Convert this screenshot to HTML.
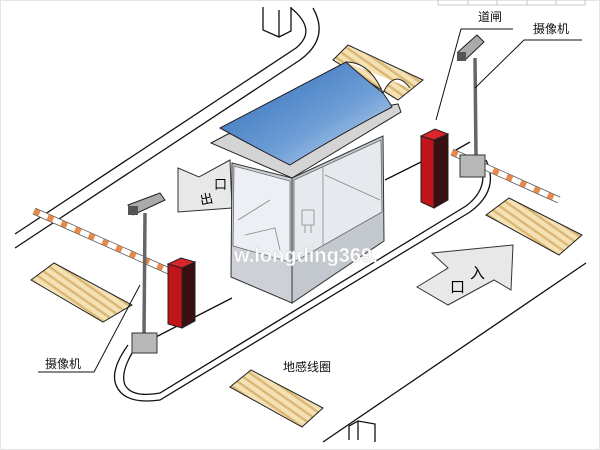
<!DOCTYPE html>
<html><head><meta charset="utf-8"><style>
html,body{margin:0;padding:0;background:#fff;}
svg{display:block;}
text{font-family:"Liberation Sans","Noto Sans CJK SC",sans-serif;}
</style></head><body>
<svg width="600" height="450" viewBox="0 0 600 450" xmlns="http://www.w3.org/2000/svg">
<defs>
<pattern id="st" width="7" height="7" patternUnits="userSpaceOnUse" patternTransform="rotate(35)">
<rect width="7" height="7" fill="#f4e2b4"/><rect width="7" height="2.5" fill="#dcb877"/></pattern>
<linearGradient id="bl" x1="0" y1="0" x2="1" y2="1"><stop offset="0" stop-color="#2a66b8"/><stop offset="0.6" stop-color="#6f9fd6"/><stop offset="1" stop-color="#d6e4f4"/></linearGradient>
</defs>
<rect x="0.5" y="0.5" width="599" height="449" fill="#fff" stroke="#e4e4e4"/>
<g stroke="#bbb" stroke-width="0.8" fill="none">
<path d="M438,0 V5 H585 V0 M468,0 V5 M497,0 V5 M527,0 V5 M556,0 V5"/></g>
<g fill="none" stroke="#111" stroke-width="1.3">
<path d="M15,234 L296,48 Q318,30 291,8"/>
<path d="M15,248 L300,60 Q330,38 313,8"/>
<path d="M263,7 V30 L279,37 L291,31 V7 M279,37 V10"/>
<path d="M150,340 L232,298"/>
<path d="M385,180 L425,160"/>
<path d="M456,150 L470,142"/>
<path d="M128,345 Q110,370 116,385 Q124,405 160,400 L470,212 Q500,190 486,160"/>
<path d="M134,350 Q120,372 125,385 Q132,398 160,393 L466,206 Q490,188 480,162"/>
<path d="M323,442 L586,263"/>
<path d="M349,440 V426 L358,421 L375,424 V442 M358,421 V440"/>
</g>
<g fill="url(#st)" stroke="#222" stroke-width="1">
<polygon points="333,60 348,45 423,80 398,100"/>
<polygon points="31,280 54,263 132,305 103,322"/>
<polygon points="230,387 251,370 323,408 302,427"/>
<polygon points="486,215 509,198 582,235 559,255"/>
</g>
<polygon points="178,168 199,177 230,160 232,208 178,212" fill="#e8e8e8" stroke="#333" stroke-width="1"/>
<text x="200" y="205" font-size="13" transform="rotate(-12 200 200)">出</text>
<text x="214" y="189" font-size="13">口</text>
<polygon points="417,287 448,268 432,253 513,245 511,290 494,280 448,305" fill="#e8e8e8" stroke="#333" stroke-width="1"/>
<text x="450" y="292" font-size="15">口</text>
<text x="470" y="278" font-size="15">入</text>
<!-- kiosk -->
<polygon points="232,163 292,178 292,303 231,277" fill="#cdd1d7" stroke="#333"/>
<polygon points="292,178 383,136 384,241 292,303" fill="#c3c8cf" stroke="#333"/>
<polygon points="234,166 290,181 290,262 233,246" fill="#eceff3" stroke="#666" stroke-width="0.8"/>
<polygon points="294,180 381,140 382,212 294,262" fill="#e6e9ee" stroke="#666" stroke-width="0.8"/>
<path d="M323,167 V245 M325,175 L380,200 M302,210 h12 v15 h-12 z M305,225 v8 M311,225 v8 M238,220 L270,200 M245,235 L275,228 L280,250" stroke="#888" fill="none" stroke-width="0.8"/>
<polygon points="211,143 228,134 398,104 401,112 292,178" fill="#d4d4d4" stroke="#222"/>
<path d="M220,128 L346,62 Q360,75 383,93 Q390,103 392,107 Q330,140 290,165 Q260,150 220,128 Z" fill="url(#bl)" stroke="#222"/>
<path d="M346,62 Q370,62 383,93 Q395,68 410,88" fill="#fff" stroke="#222"/>
<text x="234" y="262" font-size="20" font-weight="bold" fill="#fff" stroke="#ccc" stroke-width="0.5">w.longding369.</text>
<line x1="34" y1="211" x2="178" y2="275" stroke="#555" stroke-width="7"/>
<line x1="34" y1="211" x2="178" y2="275" stroke="#fff" stroke-width="5.5"/>
<line x1="34" y1="211" x2="178" y2="275" stroke="#e8894a" stroke-width="5.5" stroke-dasharray="6,9"/>
<polygon points="168,264 182,268 182,328 168,324" fill="#c0141a" stroke="#222"/>
<polygon points="182,268 195,262 195,321 182,328" fill="#3a1010" stroke="#222"/>
<polygon points="168,264 182,268 195,262 181,258" fill="#d8262b" stroke="#222"/>
<line x1="145" y1="213" x2="144" y2="335" stroke="#666" stroke-width="3.5"/>
<rect x="132" y="333" width="25" height="20" fill="#b8b8b8" stroke="#333"/>
<polygon points="128,205 160,193 165,200 133,215" fill="#aaa" stroke="#222"/>
<rect x="128" y="206" width="10" height="9" fill="#555"/>
<line x1="452" y1="152" x2="559" y2="200" stroke="#555" stroke-width="7"/>
<line x1="452" y1="152" x2="559" y2="200" stroke="#fff" stroke-width="5.5"/>
<line x1="452" y1="152" x2="559" y2="200" stroke="#e8894a" stroke-width="5.5" stroke-dasharray="6,9"/>
<line x1="475" y1="58" x2="476" y2="157" stroke="#666" stroke-width="3.5"/>
<rect x="460" y="155" width="25" height="22" fill="#b8b8b8" stroke="#333"/>
<polygon points="458,52 477,35 484,42 465,60" fill="#aaa" stroke="#222"/>
<rect x="457" y="52" width="9" height="9" fill="#555"/>
<polygon points="421,136 434,140 434,208 421,202" fill="#c0141a" stroke="#222"/>
<polygon points="434,140 448,134 448,200 434,208" fill="#3a1010" stroke="#222"/>
<polygon points="421,136 434,140 448,134 435,129" fill="#d8262b" stroke="#222"/>
<g stroke="#111" stroke-width="1" fill="none">
<path d="M513,29 H461 L436,120"/>
<path d="M582,40 H524 L475,88"/>
<path d="M38,372 H94 L140,285"/>
</g>
<g font-size="12" fill="#111">
<text x="478" y="21">道闸</text>
<text x="533" y="33">摄像机</text>
<text x="45" y="368">摄像机</text>
<text x="283" y="371">地感线圈</text>
</g>
</svg>
</body></html>
